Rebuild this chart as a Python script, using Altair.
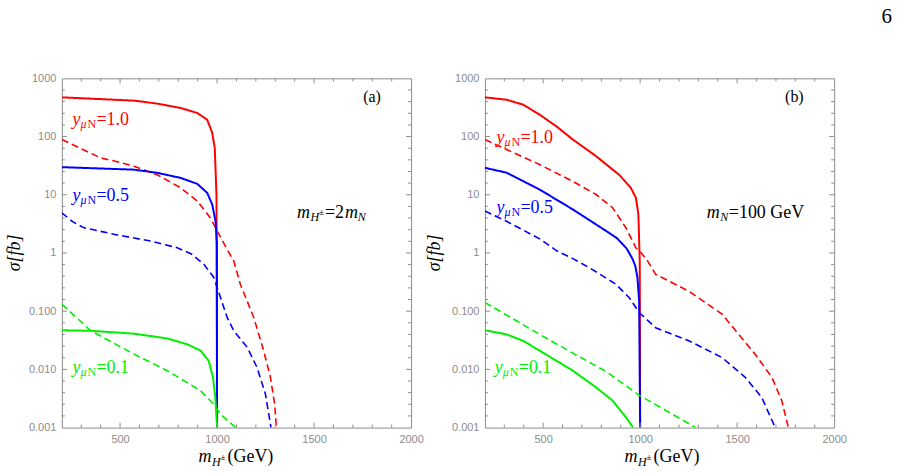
import altair as alt
import pandas as pd

# ---------------- data ----------------
# panel (a): m_H = 2 m_N
a_red_solid_x = [200, 400, 572, 692, 812, 898, 949, 975, 988, 997, 1000]
a_red_solid_y = [472, 440, 414, 368, 310, 254, 195, 116, 64, 10, 0.001]
a_red_dash_x = [200, 298, 400, 486, 572, 692, 812, 898, 966, 1000, 1052, 1086, 1120, 1189, 1240, 1275, 1297, 1306]
a_red_dash_y = [89, 62, 43, 37, 31, 22, 13.2, 7.8, 4.0, 2.4, 1.15, 0.73, 0.29, 0.078, 0.021, 0.0073, 0.0025, 0.001]
a_blue_solid_x = [200, 572, 692, 812, 898, 949, 975, 992, 999, 1000]
a_blue_solid_y = [29.8, 27, 23.8, 19.5, 15.4, 10.8, 6.8, 3.5, 1.5, 0.001]
a_blue_dash_x = [200, 255, 315, 486, 657, 795, 870, 932, 983, 1018, 1052, 1086, 1155, 1206, 1249, 1278]
a_blue_dash_y = [4.9, 3.45, 2.7, 2.04, 1.6, 1.23, 0.95, 0.64, 0.38, 0.17, 0.078, 0.046, 0.024, 0.0108, 0.0038, 0.001]
a_green_solid_x = [200, 349, 572, 743, 846, 915, 957, 979, 991, 1000]
a_green_solid_y = [0.047, 0.046, 0.041, 0.034, 0.027, 0.021, 0.014, 0.0073, 0.0033, 0.001]
a_green_dash_x = [200, 349, 572, 743, 915, 983, 1018, 1095]
a_green_dash_y = [0.132, 0.046, 0.0183, 0.0095, 0.0043, 0.0025, 0.0017, 0.001]

# panel (b): m_N = 100 GeV
b_red_solid_x = [200, 311, 396, 482, 568, 653, 773, 892, 952, 978, 991, 998, 1000]
b_red_solid_y = [472, 430, 354, 238, 150, 89, 46, 22, 13.2, 8.9, 4.6, 0.73, 0.001]
b_red_dash_x = [200, 311, 482, 653, 773, 858, 927, 978, 1012, 1038, 1080, 1251, 1422, 1508, 1594, 1679, 1730, 1764]
b_red_dash_y = [89, 60, 33, 17, 10.1, 6.0, 2.7, 1.23, 0.95, 0.73, 0.43, 0.22, 0.089, 0.040, 0.018, 0.0073, 0.0029, 0.001]
b_blue_solid_x = [200, 311, 482, 653, 824, 880, 930, 960, 975, 986, 995, 1000]
b_blue_solid_y = [29, 24, 12.3, 5.6, 2.4, 1.8, 1.2, 0.8, 0.6, 0.38, 0.15, 0.001]
b_blue_dash_x = [200, 311, 482, 568, 653, 738, 875, 944, 995, 1080, 1251, 1422, 1542, 1627, 1696]
b_blue_dash_y = [5.25, 3.5, 1.75, 1.1, 0.8, 0.56, 0.29, 0.17, 0.095, 0.052, 0.031, 0.016, 0.0073, 0.0033, 0.001]
b_green_solid_x = [200, 311, 396, 482, 653, 773, 858, 927, 964]
b_green_solid_y = [0.047, 0.040, 0.031, 0.021, 0.0095, 0.0049, 0.0029, 0.0015, 0.001]
b_green_dash_x = [200, 482, 653, 824, 995, 1166, 1286]
b_green_dash_y = [0.141, 0.040, 0.019, 0.0092, 0.0036, 0.0017, 0.001]

# axis ticks
x_label_values = [500, 1000, 1500, 2000]
y_label_values = [0.001, 0.01, 0.1, 1, 10, 100, 1000]
x_major_ticks = [500, 1000, 1500]
x_minor_ticks = [300, 400, 600, 700, 800, 900, 1100, 1200, 1300, 1400, 1600, 1700, 1800, 1900]
y_major_ticks = [0.01, 0.1, 1, 10, 100]
y_minor_ticks = [10 ** (k + f) for k in range(-3, 3) for f in (0.2, 0.4, 0.6, 0.8)]

# curve labels: panel, x, y, color, value
lab_panel = ["a", "a", "a", "b", "b", "b"]
lab_x = [255, 255, 255, 260, 260, 251]
lab_y = [156, 7.8, 0.0085, 78, 4.9, 0.0085]
lab_color = ["#ff0000", "#0000ff", "#00ee00", "#ff0000", "#0000ff", "#00ee00"]
lab_val = ["=1.0", "=0.5", "=0.1", "=1.0", "=0.5", "=0.1"]

COLORS = {"red": "#ff0000", "blue": "#0000ff", "green": "#00ee00"}
GRAY = "#8c8c8c"
SERIF = "Liberation Serif"
W = 350
H = 350

curves = {
    ("a", "red", "solid"): (a_red_solid_x, a_red_solid_y),
    ("a", "red", "dashed"): (a_red_dash_x, a_red_dash_y),
    ("a", "blue", "solid"): (a_blue_solid_x, a_blue_solid_y),
    ("a", "blue", "dashed"): (a_blue_dash_x, a_blue_dash_y),
    ("a", "green", "solid"): (a_green_solid_x, a_green_solid_y),
    ("a", "green", "dashed"): (a_green_dash_x, a_green_dash_y),
    ("b", "red", "solid"): (b_red_solid_x, b_red_solid_y),
    ("b", "red", "dashed"): (b_red_dash_x, b_red_dash_y),
    ("b", "blue", "solid"): (b_blue_solid_x, b_blue_solid_y),
    ("b", "blue", "dashed"): (b_blue_dash_x, b_blue_dash_y),
    ("b", "green", "solid"): (b_green_solid_x, b_green_solid_y),
    ("b", "green", "dashed"): (b_green_dash_x, b_green_dash_y),
}
rows = []
for (p, c, s), (xs, ys) in curves.items():
    for i, (xv, yv) in enumerate(zip(xs, ys)):
        rows.append({"panel": p, "color": c, "style": s, "i": i, "x": xv, "y": yv})
df = pd.DataFrame(rows)

labels = pd.DataFrame({"panel": lab_panel, "x": lab_x, "y": lab_y,
                       "color": lab_color, "val": lab_val})

xscale = alt.Scale(domain=[200, 2000], nice=False, zero=False)
yscale = alt.Scale(type="log", domain=[0.001, 1000], nice=False)
dash_scale = alt.Scale(domain=["solid", "dashed"], range=[[1, 0], [7, 4]])
width_scale = alt.Scale(domain=["solid", "dashed"], range=[2.0, 1.6])

x_axis = alt.Axis(values=x_label_values, title=None, ticks=False, domain=False, grid=False,
                  format="d",
                  labelColor=GRAY, labelFont="Liberation Sans", labelFontSize=11,
                  labelPadding=6, labelOverlap=False, labelFlush=False, labelBound=False)
y_axis = alt.Axis(values=y_label_values, title=None, ticks=False, domain=False, grid=False,
                  labelColor=GRAY, labelFont="Liberation Sans", labelFontSize=11,
                  labelPadding=6, labelOverlap=False, labelFlush=False, labelBound=False,
                  labelExpr="datum.value >= 1 ? format(datum.value, 'd') : format(datum.value, '.3f')")


def XE():
    return alt.X("x:Q", scale=xscale, axis=x_axis)


def YE():
    return alt.Y("y:Q", scale=yscale, axis=y_axis)


def text_piece(data, text, dx, dy, size, style="normal", color="black", align="left", angle=None,
               px=None):
    kw = dict(text=text, dx=dx, dy=dy, fontSize=size, fontStyle=style, font=SERIF,
              color=color, align=align, baseline="alphabetic")
    if angle is not None:
        kw["angle"] = angle
    mk = alt.Chart(data).mark_text(**kw)
    if px is not None:
        return mk.encode(x=alt.value(px[0]), y=alt.value(px[1]))
    return mk.encode(x=XE(), y=YE())


def panel(p, param_pieces, param_xy, tag, xtitle_x, ylabel_x, extra=None):
    layers = []
    for c in ["red", "blue", "green"]:
        d = df[(df.panel == p) & (df.color == c)]
        enc = dict(
            x=XE(),
            y=YE(),
            detail="style:N",
            order="i:Q",
            strokeDash=alt.StrokeDash("style:N", scale=dash_scale, legend=None),
            strokeWidth=alt.StrokeWidth("style:N", scale=width_scale, legend=None),
        )
        layers.append(alt.Chart(d).mark_line(clip=True, color=COLORS[c]).encode(**enc))

    # frame ticks (inward)
    tx_maj = pd.DataFrame({"x": x_major_ticks})
    tx_min = pd.DataFrame({"x": x_minor_ticks})
    ty_maj = pd.DataFrame({"y": y_major_ticks})
    ty_min = pd.DataFrame({"y": y_minor_ticks})
    for dfx, ln in [(tx_maj, 5), (tx_min, 3)]:
        for y0, y1 in [(H, H - ln), (0, ln)]:
            layers.append(alt.Chart(dfx).mark_rule(color=GRAY, strokeWidth=1).encode(
                x=XE(), y=alt.value(y0), y2=alt.value(y1)))
    for dfy, ln in [(ty_maj, 5), (ty_min, 3)]:
        for x0, x1 in [(0, ln), (W, W - ln)]:
            layers.append(alt.Chart(dfy).mark_rule(color=GRAY, strokeWidth=1).encode(
                y=YE(), x=alt.value(x0), x2=alt.value(x1)))

    # curve labels  y_{μN}=v
    lab = labels[labels.panel == p]
    for txt, dx, dy, size, style in [("y", 0, 0, 18, "italic"), ("μ", 8, 3, 12, "italic"),
                                     ("N", 15, 3, 12, "normal")]:
        layers.append(alt.Chart(lab).mark_text(dx=dx, dy=dy, fontSize=size, fontStyle=style, font=SERIF,
                                               align="left", baseline="alphabetic", text=txt).encode(
            x=XE(), y=YE(), color=alt.Color("color:N", scale=None)))
    layers.append(alt.Chart(lab).mark_text(dx=24, fontSize=18, font=SERIF, align="left",
                                           baseline="alphabetic").encode(
        x=XE(), y=YE(), text="val:N", color=alt.Color("color:N", scale=None)))

    # parameter annotation
    pdata = pd.DataFrame({"x": [param_xy[0]], "y": [param_xy[1]]})
    for t, dx, dy, size, style in param_pieces:
        layers.append(text_piece(pdata, t, dx, dy, size, style))

    # panel tag
    tdata = pd.DataFrame({"x": [tag[1]], "y": [393]})
    layers.append(text_piece(tdata, tag[0], 0, 0, 16, align="center"))

    # axis titles
    one = pd.DataFrame({"k": [0]})
    xt = xtitle_x
    layers.append(text_piece(one, "m", 0, 0, 18, "italic", px=(xt, 384)))
    layers.append(text_piece(one, "H", 13.5, 5, 12, "italic", px=(xt, 384)))
    layers.append(text_piece(one, "±", 22, -2, 9, px=(xt, 384)))
    layers.append(text_piece(one, "(GeV)", 29, 0, 18, px=(xt, 384)))
    layers.append(text_piece(one, "σ[fb]", 0, 0, 18, "italic", align="center", angle=270,
                             px=(ylabel_x, 175)))
    if extra is not None:
        layers.append(extra)

    return alt.layer(*layers).properties(width=W, height=H)


param_a = [("m", 0, 0, 18, "italic"), ("H", 13.5, 3, 12, "italic"), ("±", 22, -3, 9, "normal"),
           ("=2", 28, 0, 18, "normal"), ("m", 48, 0, 18, "italic"), ("N", 61, 3, 12, "italic")]
param_b = [("m", 0, 0, 18, "italic"), ("N", 13.5, 3, 12, "italic"), ("=100 GeV", 22, 0, 18, "normal")]

page_no = text_piece(pd.DataFrame({"k": [0]}), "6", 0, 0, 21, align="right", px=(408, -55))

left = panel("a", param_a, (1412, 4.03), ("(a)", 1799), 137, -42)
right = panel("b", param_b, (1344, 4.03), ("(b)", 1795), 140, -45, extra=page_no)

chart = alt.hconcat(left, right, spacing=74, bounds="flush").properties(
    padding={"left": 5, "top": 5, "right": 5, "bottom": 5},
    background="white",
).configure_view(stroke=GRAY, strokeWidth=1)

chart.save("out.html", embed_options={"renderer": "svg", "actions": False})
